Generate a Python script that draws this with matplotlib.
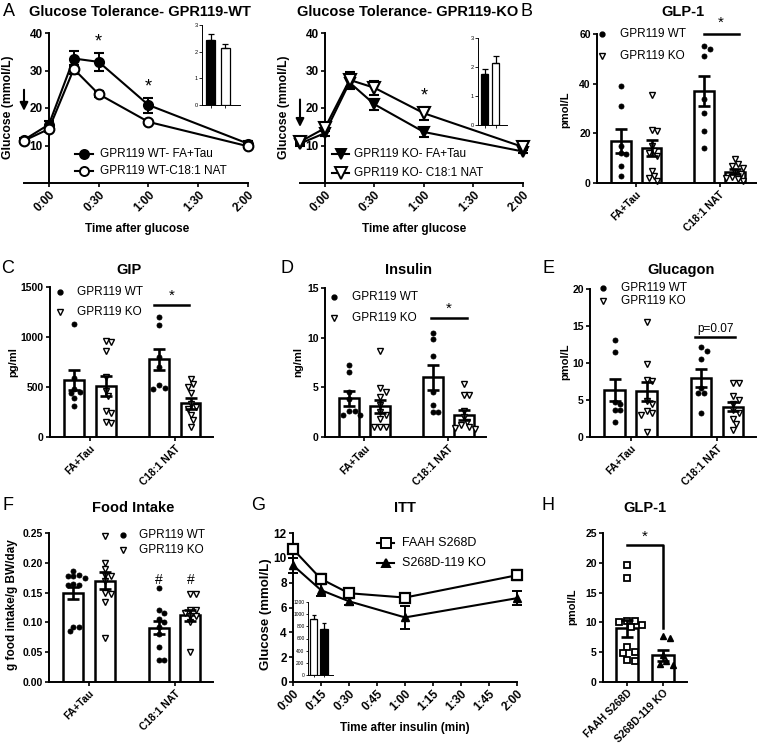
import matplotlib
matplotlib.use('Agg')
import matplotlib.pyplot as plt
import numpy as np
from matplotlib.lines import Line2D

plt.rcParams['font.family'] = ['Liberation Sans', 'DejaVu Sans']
plt.rcParams['axes.linewidth'] = 1.4

W, H = 757, 749
fig = plt.figure(figsize=(W / 100, H / 100), dpi=100)

# ---------------- DATA ----------------
gtt_time = [-15, 0, 15, 30, 60, 120]
gtt_ticks = [0, 30, 60, 90, 120]
gtt_ticklabels = ['0:00', '0:30', '1:00', '1:30', '2:00']

wt_fatau = [11.5, 15.6, 33.2, 32.3, 20.8, 10.5]
wt_fatau_sem = [0.6, 0.9, 2.0, 2.4, 2.0, 0.6]
wt_nat = [11.3, 14.4, 30.4, 23.7, 16.3, 9.8]
wt_nat_sem = [0.5, 0.7, 1.2, 0.8, 0.6, 0.5]
ko_fatau = [10.5, 13.3, 26.8, 21.0, 13.6, 8.4]
ko_fatau_sem = [0.5, 0.8, 1.8, 1.4, 1.2, 0.5]
ko_nat = [11.0, 14.6, 27.5, 25.4, 18.6, 9.6]
ko_nat_sem = [0.5, 0.8, 2.0, 1.8, 1.8, 0.5]

auc_wt = [2.42, 2.15]
auc_wt_sem = [0.25, 0.15]
auc_ko = [1.75, 2.15]
auc_ko_sem = [0.18, 0.22]

treatments = ['FA+Tau', 'C18:1 NAT']
genotypes = ['GPR119 WT', 'GPR119 KO']

# order: WT FA+Tau, KO FA+Tau, WT C18:1 NAT, KO C18:1 NAT
glp1_mean = [17, 14, 37, 4.5]
glp1_sem = [4.8, 3.2, 6.0, 1.0]
glp1_pts = [[39, 31, 15, 12, 11.5, 7, 3],
            [35.5, 21.5, 21, 15, 13, 12, 11, 5, 3, 2, 1],
            [55, 54, 51, 34, 28, 21, 14],
            [9.5, 7.5, 7, 6, 4.5, 3.5, 2.5, 2, 1.5, 1]]

gip_mean = [570, 512, 778, 338]
gip_sem = [100, 100, 105, 55]
gip_pts = [[1135, 590, 485, 450, 438, 390, 310],
           [965, 950, 860, 600, 460, 410, 260, 240, 150, 140],
           [1200, 1120, 800, 700, 520, 495, 485],
           [578, 530, 505, 440, 330, 300, 280, 220, 170, 100]]

ins_mean = [3.9, 3.1, 6.0, 2.2]
ins_sem = [0.75, 0.65, 1.25, 0.5]
ins_pts = [[7.2, 6.5, 4.5, 3.8, 2.6, 2.6, 2.2, 2.2],
           [8.7, 4.9, 4.5, 4.0, 3.2, 2.5, 2.2, 1.8, 1.0, 1.0, 1.0],
           [10.5, 9.9, 8.2, 4.5, 3.2, 2.5, 2.5],
           [5.3, 4.2, 4.2, 2.6, 2.0, 1.5, 1.2, 1.0, 0.9, 0.8]]

gcg_mean = [6.4, 6.2, 8.0, 4.1]
gcg_sem = [1.5, 1.3, 1.2, 0.6]
gcg_pts = [[13.1, 11.5, 4.7, 4.5, 3.7, 3.6, 2.0],
           [15.5, 9.8, 7.7, 7.6, 4.8, 4.5, 3.5, 3.3, 3.0, 0.7],
           [12.1, 11.6, 10.5, 6.6, 5.9, 5.9, 3.2],
           [7.3, 7.3, 5.5, 5.0, 4.5, 3.6, 3.3, 2.5, 1.8, 1.0]]

food_mean = [0.149, 0.170, 0.091, 0.112]
food_sem = [0.010, 0.014, 0.011, 0.009]
food_pts = [[0.187, 0.180, 0.178, 0.178, 0.175, 0.165, 0.163, 0.162, 0.093, 0.092, 0.085],
            [0.245, 0.199, 0.190, 0.180, 0.178, 0.170, 0.150, 0.147, 0.134, 0.074],
            [0.157, 0.120, 0.115, 0.105, 0.100, 0.093, 0.080, 0.059, 0.037, 0.037],
            [0.148, 0.148, 0.120, 0.120, 0.115, 0.110, 0.110, 0.100, 0.050]]

itt_time = [0, 15, 30, 60, 120]
itt_ticks = [0, 15, 30, 45, 60, 75, 90, 105, 120]
itt_ticklabels = ['0:00', '0:15', '0:30', '0:45', '1:00', '1:15', '1:30', '1:45', '2:00']
itt_groups = ['FAAH S268D', 'S268D-119 KO']
faah = [10.7, 8.3, 7.15, 6.8, 8.6]
faah_sem = [0.3, 0.4, 0.35, 0.2, 0.4]
s268ko = [9.4, 7.4, 6.5, 5.2, 6.75]
s268ko_sem = [0.6, 0.5, 0.3, 0.9, 0.55]
itt_auc = [920, 750]
itt_auc_sem = [60, 110]

h_mean = [9.0, 4.5]
h_sem = [1.4, 0.9]
h_pts = [[19.6, 17.5, 10.3, 10.3, 10.0, 9.5, 9.3, 5.8, 5.0, 4.8, 3.7, 3.6],
         [7.8, 7.4, 4.5, 3.5, 3.0, 2.9]]


# ---------------- HELPERS ----------------
def px_axes(x0, x1, ytop, ybot):
    return fig.add_axes([x0 / W, 1 - ybot / H, (x1 - x0) / W, (ybot - ytop) / H])


def ftext(x, y, s, **kw):
    kw.setdefault('ha', 'center')
    kw.setdefault('va', 'center')
    fig.text(x / W, 1 - y / H, s, **kw)


def style(ax, fs):
    for s in ['top', 'right']:
        ax.spines[s].set_visible(False)
    ax.tick_params(direction='out', length=3, width=1.2, labelsize=fs, pad=1.5)
    for lab in ax.get_yticklabels() + ax.get_xticklabels():
        lab.set_fontweight('bold')


def swarm_x(ax, xc, vals, d_px):
    tr = ax.transData
    inv = tr.inverted()
    x0pix = tr.transform((xc, 0))[0]
    placed = []
    xs = np.zeros(len(vals))
    order = np.argsort(vals)[::-1]
    cands = [0]
    for j in range(1, 12):
        cands += [j * d_px * 0.55, -j * d_px * 0.55]
    for i in order:
        ypix = tr.transform((xc, vals[i]))[1]
        for c in cands:
            ok = all(np.hypot(x0pix + c - px, ypix - py) >= d_px for px, py in placed)
            if ok:
                break
        placed.append((x0pix + c, ypix))
        xs[i] = inv.transform((x0pix + c, ypix))[0]
    return xs


def fig_line_legend(x_line0, x_line1, x_text, y, marker, mfc, label, fs=8.5, ms=6.5, lw=1.5):
    xm = (x_line0 + x_line1) / 2
    fig.add_artist(Line2D([x_line0 / W, xm / W, x_line1 / W], [1 - y / H] * 3,
                          transform=fig.transFigure, color='k', lw=lw,
                          marker=marker, markevery=[1], ms=ms, mfc=mfc, mec='k', mew=1.4))
    ftext(x_text, y, label, ha='left', fontsize=fs)


def fig_marker_legend(xm, x_text, y, marker, mfc, label, fs=8.5, ms=3.5):
    fig.add_artist(Line2D([xm / W], [1 - y / H], transform=fig.transFigure,
                          ls='none', marker=marker, ms=ms, mfc=mfc, mec='k', mew=1.0))
    ftext(x_text, y, label, ha='left', fontsize=fs)


def gtt_panel(rect, series, marker_styles, arrow_x, arrow_y, stars, fs=8.5):
    ax = px_axes(*rect)
    ax.set_xlim(-15, 120)
    ax.set_ylim(0, 40)
    for (vals, sem), (mk, mfc, ms) in zip(series, marker_styles):
        ax.errorbar(gtt_time, vals, yerr=sem, color='k', lw=1.5, marker=mk, ms=ms,
                    mfc=mfc, mec='k', mew=1.5, capsize=3.5, capthick=1.4, elinewidth=1.4,
                    clip_on=False, zorder=3)
    ax.spines['left'].set_position(('data', 0))
    ax.spines['left'].set_bounds(0, 40)
    ax.set_yticks([10, 20, 30, 40])
    ax.set_xticks(gtt_ticks)
    ax.set_xticklabels(gtt_ticklabels, rotation=45, ha='right', rotation_mode='anchor')
    style(ax, fs)
    ax.annotate('', xy=(arrow_x, arrow_y[1]), xytext=(arrow_x, arrow_y[0]),
                arrowprops=dict(arrowstyle='-|>', color='k', lw=1.5, mutation_scale=12),
                annotation_clip=False)
    for sx, sy in stars:
        ax.text(sx, sy, '*', ha='center', va='center', fontsize=13)
    return ax


def auc_inset(rect, vals, sem, colors):
    ax = px_axes(*rect)
    xs = [0, 1]
    ax.bar(xs, vals, width=0.62, color=colors, edgecolor='k', lw=0.9)
    ax.errorbar(xs, vals, yerr=[[0, 0], sem], fmt='none', ecolor='k', elinewidth=0.9,
                capsize=2, capthick=0.9)
    ax.set_xlim(-0.6, 2.0)
    ax.set_ylim(0, 3)
    ax.set_yticks([0, 1, 2, 3])
    ax.set_xticks(xs)
    ax.set_xticklabels(['', ''])
    for s in ['top', 'right']:
        ax.spines[s].set_visible(False)
    for s in ['left', 'bottom']:
        ax.spines[s].set_linewidth(0.7)
    ax.tick_params(length=2, width=0.6, labelsize=4, pad=1)
    return ax


bar_x = [-0.185, 0.185, 0.815, 1.185]
bar_w = 0.235


def bar_panel(rect, means, sems, pts, ylim, yticks, fs=7.5, yfmt=None, xlim=(-0.47, 1.45)):
    ax = px_axes(*rect)
    ax.set_xlim(*xlim)
    ax.set_ylim(*ylim)
    ax.bar(bar_x, means, width=bar_w, color='white', edgecolor='k', lw=1.8, zorder=1)
    for k, (x, p) in enumerate(zip(bar_x, pts)):
        xs = swarm_x(ax, x, p, 5.2)
        if k % 2 == 0:
            ax.plot(xs, p, 'o', ms=3.6, mfc='k', mec='k', mew=0.6, zorder=2, clip_on=False)
        else:
            ax.plot(xs, p, 'v', ms=4.6, mfc='white', mec='k', mew=1.0, zorder=2, clip_on=False)
    ax.errorbar(bar_x, means, yerr=sems, fmt='none', ecolor='k', elinewidth=1.9,
                capsize=4.5, capthick=1.9, zorder=3)
    ax.set_yticks(yticks)
    if yfmt:
        ax.set_yticklabels([yfmt.format(v) for v in yticks])
    ax.set_xticks([0, 1])
    ax.set_xticklabels(treatments, rotation=45, ha='right', rotation_mode='anchor')
    style(ax, fs)
    return ax


# ---------------- PANEL A (WT) ----------------
axA = gtt_panel((24, 248, 33, 183),
                [(wt_fatau, wt_fatau_sem), (wt_nat, wt_nat_sem)],
                [('o', 'k', 6.5), ('o', 'white', 7)],
                -15, (25.6, 18.5), [(30, 37.6), (60, 25.6)])
auc_inset((202, 240, 25, 105), auc_wt, auc_wt_sem, ['k', 'white'])
fig_line_legend(75, 93, 100, 154, 'o', 'k', 'GPR119 WT- FA+Tau')
fig_line_legend(75, 93, 100, 171, 'o', 'white', 'GPR119 WT-C18:1 NAT')
ftext(140, 12, 'Glucose Tolerance- GPR119-WT', fontsize=10.5, fontweight='bold')
ftext(137, 229, 'Time after glucose', fontsize=8.5, fontweight='bold')
ftext(8, 107, 'Glucose (mmol/L)', fontsize=8.8, fontweight='bold', rotation=90)
ftext(9, 12, 'A', fontsize=13)

# ---------------- PANEL A (KO) ----------------
axK = gtt_panel((300, 523, 33, 183),
                [(ko_fatau, ko_fatau_sem), (ko_nat, ko_nat_sem)],
                [('v', 'k', 6.5), ('v', 'white', 8)],
                -15, (23.0, 14.2), [(60, 23.3)])
auc_inset((478, 507, 38, 125), auc_ko, auc_ko_sem, ['k', 'white'])
fig_line_legend(332, 349, 354, 154, 'v', 'k', 'GPR119 KO- FA+Tau')
fig_line_legend(332, 349, 354, 173, 'v', 'white', 'GPR119 KO- C18:1 NAT', ms=8)
ftext(408, 12, 'Glucose Tolerance- GPR119-KO', fontsize=10.5, fontweight='bold')
ftext(414, 229, 'Time after glucose', fontsize=8.5, fontweight='bold')
ftext(284, 107, 'Glucose (mmol/L)', fontsize=8.8, fontweight='bold', rotation=90)

# ---------------- PANEL B ----------------
axB = bar_panel((597, 757, 34, 183), glp1_mean, glp1_sem, glp1_pts, (0, 60), [0, 20, 40, 60])
axB.plot([0.815, 1.235], [60, 60], color='k', lw=1.8, clip_on=False)
axB.text(1.02, 61.5, '*', ha='center', va='bottom', fontsize=11)
fig_marker_legend(602, 620, 34, 'o', 'k', genotypes[0])
fig_marker_legend(602, 620, 56, 'v', 'white', genotypes[1], ms=4.5)
ftext(683, 12, 'GLP-1', fontsize=10.5, fontweight='bold')
ftext(565, 110, 'pmol/L', fontsize=8, fontweight='bold', rotation=90)
ftext(527, 12, 'B', fontsize=13)

# ---------------- PANEL C ----------------
axC = bar_panel((50, 213, 287, 437), gip_mean, gip_sem, gip_pts, (0, 1500), [0, 500, 1000, 1500])
axC.plot([0.75, 1.17], [1320, 1320], color='k', lw=1.8)
axC.text(0.96, 1345, '*', ha='center', va='bottom', fontsize=11)
fig_marker_legend(60, 77, 292, 'o', 'k', genotypes[0])
fig_marker_legend(60, 77, 312, 'v', 'white', genotypes[1], ms=4.5)
ftext(129, 270, 'GIP', fontsize=10.5, fontweight='bold')
ftext(13, 362, 'pg/ml', fontsize=8, fontweight='bold', rotation=90)
ftext(8, 268, 'C', fontsize=13)

# ---------------- PANEL D ----------------
axD = bar_panel((325, 486, 288, 437), ins_mean, ins_sem, ins_pts, (0, 15), [0, 5, 10, 15])
axD.plot([0.8, 1.22], [12, 12], color='k', lw=1.8)
axD.text(1.01, 12.2, '*', ha='center', va='bottom', fontsize=11)
fig_marker_legend(334, 352, 297, 'o', 'k', genotypes[0])
fig_marker_legend(334, 352, 318, 'v', 'white', genotypes[1], ms=4.5)
ftext(408, 270, 'Insulin', fontsize=10.5, fontweight='bold')
ftext(298, 362, 'ng/ml', fontsize=8, fontweight='bold', rotation=90)
ftext(287, 268, 'D', fontsize=13)

# ---------------- PANEL E ----------------
axE = bar_panel((590, 756, 289, 437), gcg_mean, gcg_sem, gcg_pts, (0, 20), [0, 5, 10, 15, 20])
axE.plot([0.75, 1.21], [13.5, 13.5], color='k', lw=1.8)
axE.text(0.98, 13.8, 'p=0.07', ha='center', va='bottom', fontsize=8.5)
fig_marker_legend(603, 621, 288, 'o', 'k', genotypes[0])
fig_marker_legend(603, 621, 301, 'v', 'white', genotypes[1], ms=4.5)
ftext(681, 270, 'Glucagon', fontsize=10.5, fontweight='bold')
ftext(565, 362, 'pmol/L', fontsize=8, fontweight='bold', rotation=90)
ftext(548, 268, 'E', fontsize=13)

# ---------------- PANEL F ----------------
axF = bar_panel((49, 213, 533, 682), food_mean, food_sem, food_pts, (0, 0.25),
                [0, 0.05, 0.10, 0.15, 0.20, 0.25], fs=7.5, yfmt='{:.2f}')
for x in bar_x[2:]:
    axF.text(x, 0.171, '#', ha='center', va='center', fontsize=10)
fig_marker_legend(123, 139, 535, 'o', 'k', genotypes[0])
fig_marker_legend(123, 139, 550, 'v', 'white', genotypes[1], ms=4.5)
ftext(133, 508, 'Food Intake', fontsize=10.5, fontweight='bold')
ftext(12, 605, 'g food intake/g BW/day', fontsize=8.5, fontweight='bold', rotation=90)
ftext(8, 505, 'F', fontsize=13)

# ---------------- PANEL G ----------------
axG = px_axes(293, 517, 533, 682)
axG.set_xlim(0, 120)
axG.set_ylim(0, 12)
axG.errorbar(itt_time, faah, yerr=faah_sem, color='k', lw=1.5, marker='s', ms=7.5,
             mfc='white', mec='k', mew=1.6, capsize=3.5, capthick=1.4, elinewidth=1.4,
             clip_on=False, zorder=3)
axG.errorbar(itt_time, s268ko, yerr=s268ko_sem, color='k', lw=1.5, marker='^', ms=6,
             mfc='k', mec='k', capsize=3.5, capthick=1.4, elinewidth=1.4,
             clip_on=False, zorder=3)
axG.set_yticks(range(0, 13, 2))
axG.set_xticks(itt_ticks)
axG.set_xticklabels(itt_ticklabels, rotation=45, ha='right', rotation_mode='anchor')
style(axG, 8.5)
axGi = px_axes(308, 333, 602, 675)
axGi.bar([0, 1], itt_auc, width=0.75, color=['white', 'k'], edgecolor='k', lw=0.9)
axGi.errorbar([0, 1], itt_auc, yerr=[[0, 0], itt_auc_sem], fmt='none', ecolor='k',
              elinewidth=0.9, capsize=1.5, capthick=0.9)
axGi.set_xlim(-0.55, 1.9)
axGi.set_ylim(0, 1200)
axGi.set_yticks(range(0, 1201, 200))
axGi.set_xticks([0, 1])
axGi.set_xticklabels(['', ''])
for s in ['top', 'right']:
    axGi.spines[s].set_visible(False)
for s in ['left', 'bottom']:
    axGi.spines[s].set_linewidth(0.7)
axGi.tick_params(length=1.5, width=0.6, labelsize=3.5, pad=1)
fig_line_legend(377, 394, 402, 543, 's', 'white', itt_groups[0], fs=9, ms=7)
fig_line_legend(377, 394, 402, 563, '^', 'k', itt_groups[1], fs=9, ms=6)
ftext(405, 508, 'ITT', fontsize=10.5, fontweight='bold')
ftext(405, 728, 'Time after insulin (min)', fontsize=8.5, fontweight='bold')
ftext(266, 614, 'Glucose (mmol/L)', fontsize=9.5, fontweight='bold', rotation=90)
ftext(258, 505, 'G', fontsize=13)

# ---------------- PANEL H ----------------
axH = px_axes(603, 687, 533, 682)
axH.set_xlim(-0.67, 1.67)
axH.set_ylim(0, 25)
axH.bar([0, 1], h_mean, width=0.61, color='white', edgecolor='k', lw=1.8, zorder=1)
xs0 = swarm_x(axH, 0, h_pts[0], 7)
axH.plot(xs0, h_pts[0], 's', ms=5, mfc='white', mec='k', mew=1.3, zorder=2)
xs1 = swarm_x(axH, 1, h_pts[1], 6)
axH.plot(xs1, h_pts[1], '^', ms=4.5, mfc='k', mec='k', zorder=2)
axH.errorbar([0, 1], h_mean, yerr=h_sem, fmt='none', ecolor='k', elinewidth=1.9,
             capsize=4.5, capthick=1.9, zorder=3)
axH.plot([0, 1, 1], [23, 23, 9], color='k', lw=1.8)
axH.text(0.5, 23.2, '*', ha='center', va='bottom', fontsize=11)
axH.set_yticks(range(0, 26, 5))
axH.set_xticks([0, 1])
axH.set_xticklabels(itt_groups, rotation=45, ha='right', rotation_mode='anchor')
style(axH, 7.5)
ftext(645, 508, 'GLP-1', fontsize=10.5, fontweight='bold')
ftext(572, 607, 'pmol/L', fontsize=8, fontweight='bold', rotation=90)
ftext(548, 505, 'H', fontsize=13)

fig.savefig('out.png', dpi=100)
